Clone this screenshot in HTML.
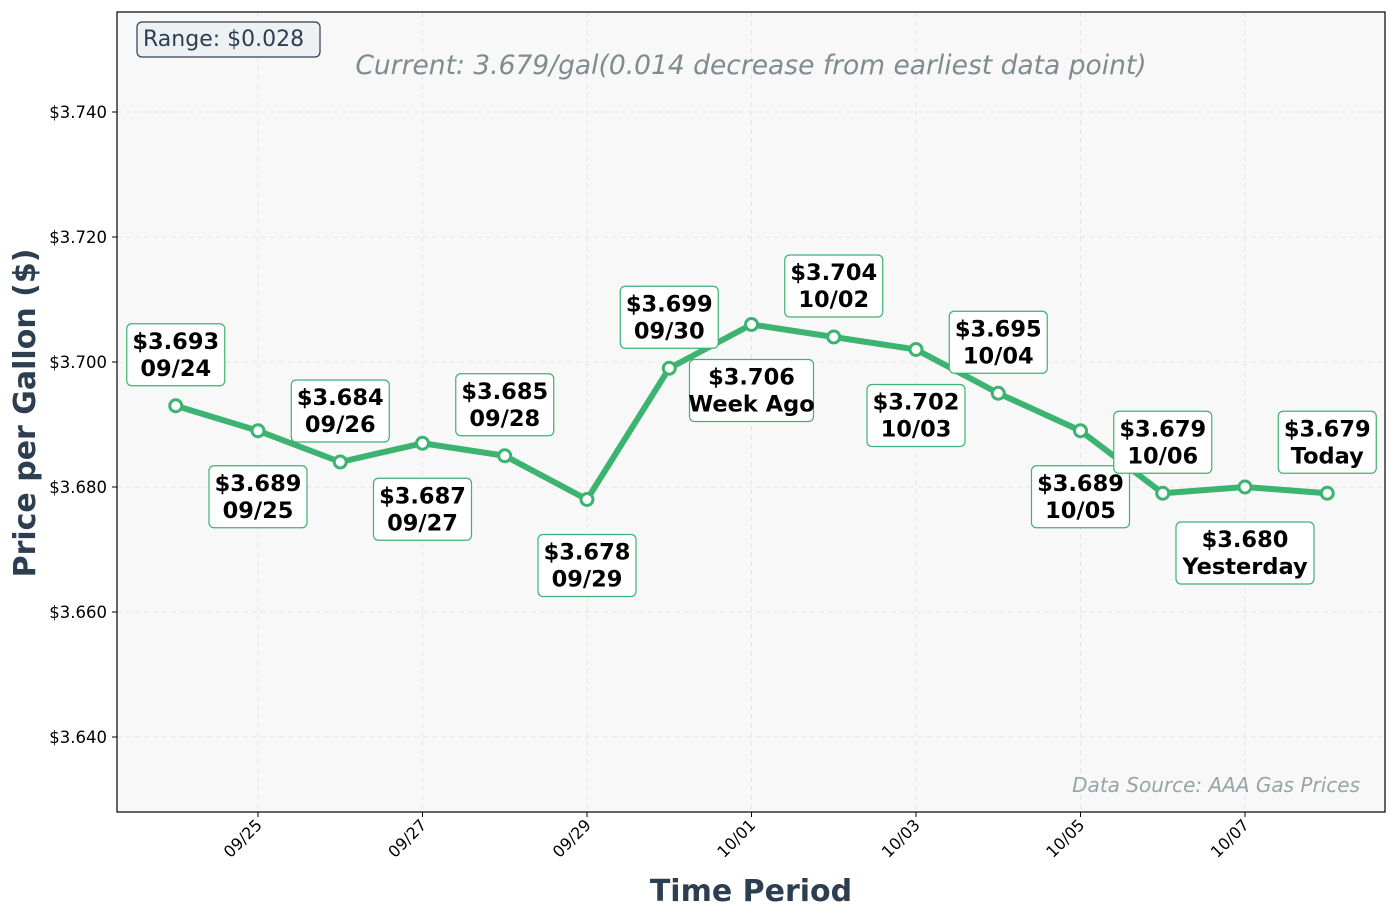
<!DOCTYPE html>
<html><head><meta charset="utf-8"><style>
body{margin:0;background:#fff;font-family:"Liberation Sans","DejaVu Sans",sans-serif;}
svg text{font-family:"DejaVu Sans","Liberation Sans",sans-serif;}
</style></head><body>
<svg id="chart" width="1397" height="918" xmlns="http://www.w3.org/2000/svg">
<rect x="117" y="12" width="1268" height="800" fill="#f8f8f8"/>
<g id="grid"></g>
<g id="axes"></g>
<g id="series"></g>
<g id="labels"></g>
<rect x="117" y="12" width="1268" height="800" fill="none" stroke="#000" stroke-width="1.2"/>
<rect x="137" y="22" width="183" height="35" rx="5" fill="#eef1f4" stroke="#2c3e50" stroke-width="1.2"/>
<text x="143" y="46" font-size="22" fill="#2c3e50">Range: $0.028</text>
<text x="751" y="74" font-size="26.5" font-style="italic" fill="#7f8c8d" text-anchor="middle">Current: 3.679/gal(0.014 decrease from earliest data point)</text>
<text x="1360" y="792" font-size="20" font-style="italic" fill="#95a5a6" text-anchor="end">Data Source: AAA Gas Prices</text>
<text x="751" y="901" font-size="30" font-weight="bold" fill="#2c3e50" text-anchor="middle">Time Period</text>
<text transform="translate(35,413) rotate(-90)" font-size="30" font-weight="bold" fill="#2c3e50" text-anchor="middle">Price per Gallon ($)</text>
</svg>
<script>
const dayIndex=[0,1,2,3,4,5,6,7,8,9,10,11,12,13,14];
const prices=[3.693,3.689,3.684,3.687,3.685,3.678,3.699,3.706,3.704,3.702,3.695,3.689,3.679,3.680,3.679];
const pointLabels=["09/24","09/25","09/26","09/27","09/28","09/29","09/30","Week Ago","10/02","10/03","10/04","10/05","10/06","Yesterday","Today"];
const labelAbove=[1,0,1,0,1,0,1,0,1,0,1,0,1,0,1];
const yTicks=[3.640,3.660,3.680,3.700,3.720,3.740];
const xTickDays=[1,3,5,7,9,11,13];
const xTickLabels=["09/25","09/27","09/29","10/01","10/03","10/05","10/07"];
const NS="http://www.w3.org/2000/svg";
function xs(d){return 175.75+d*82.25;}
function ys(v){return 737-(v-3.64)*6250;}
function mk(tag,attrs,parent,txt){const e=document.createElementNS(NS,tag);for(const k in attrs)e.setAttribute(k,attrs[k]);if(txt!==undefined)e.textContent=txt;document.getElementById(parent).appendChild(e);return e;}
yTicks.forEach((t,i)=>{
 const g=mk('line',{x1:117,x2:1385,y1:ys(t),y2:ys(t),stroke:'#e6e6e6','stroke-dasharray':'5,4','stroke-width':1},'grid');
 
 
 const tk=mk('line',{x1:112,x2:117,y1:ys(t),y2:ys(t),stroke:'#000'},'axes');
 
 
 const tl=mk('text',{x:107,y:ys(t)+6,'font-size':16.5,'text-anchor':'end',fill:'#000'},'axes','$'+t.toFixed(3));
 
 
});
xTickDays.forEach((d,i)=>{
 const x=xs(d);
 const g=mk('line',{x1:x,x2:x,y1:12,y2:812,stroke:'#e6e6e6','stroke-dasharray':'5,4','stroke-width':1},'grid');
 
 
 const tk=mk('line',{x1:x,x2:x,y1:812,y2:817,stroke:'#000'},'axes');
 
 
 const tl=mk('text',{x:x+5,y:826,'font-size':16,'text-anchor':'end',fill:'#000',transform:`rotate(-45 ${x+5} 826)`},'axes',xTickLabels[i]);
 
 
});
const pts=dayIndex.map((d,i)=>xs(d)+','+ys(prices[i])).join(' ');
const line=mk('polyline',{points:pts,fill:'none',stroke:'#3cb371','stroke-width':6,'stroke-linejoin':'round'},'series');


dayIndex.forEach((d,i)=>{
 const c=mk('circle',{cx:xs(d),cy:ys(prices[i]),r:6,fill:'#fff',stroke:'#3cb371','stroke-width':3},'series');
 
 
 const cx=xs(d), cy=ys(prices[i])+(labelAbove[i]?-51:66);
 const t2=pointLabels[i];
 const w=Math.max(98,t2.length*14+12);
 const r=mk('rect',{x:cx-w/2,y:cy-31,width:w,height:62,rx:5,fill:'#fff',stroke:'#3cb371','stroke-width':1.2},'labels');
 
 
 const a=mk('text',{x:cx,y:cy-6,'font-size':22.5,'font-weight':'bold','text-anchor':'middle',fill:'#000'},'labels','$'+prices[i].toFixed(3));
 
 
 const b=mk('text',{x:cx,y:cy+21,'font-size':22.5,'font-weight':'bold','text-anchor':'middle',fill:'#000'},'labels',t2);
 
 
});
</script>
</body></html>
